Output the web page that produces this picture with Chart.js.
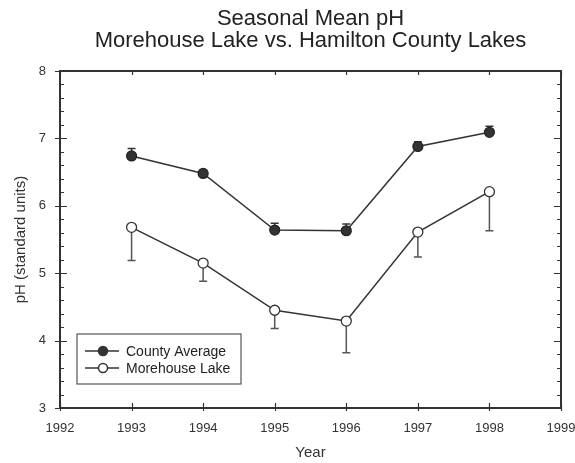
<!DOCTYPE html>
<html>
<head>
<meta charset="utf-8">
<script src="https://cdn.jsdelivr.net/npm/chart.js@4/dist/chart.umd.min.js"></script>
<style>
    html, body { margin: 0; padding: 0; background: #fff; }
    #wrap { width: 575px; height: 463px; }
</style>
</head>
<body>
<div id="wrap"><canvas id="chartPh"></canvas></div>
<script>
// ===========================
// DATOS
// ===========================
const years = [1993, 1994, 1995, 1996, 1997, 1998];
const countyAvg = [6.74, 6.48, 5.64, 5.63, 6.88, 7.09];
const countyErrUp = [0.11, 0.05, 0.10, 0.10, 0.07, 0.09];
const morehouse = [5.68, 5.15, 4.45, 4.29, 5.61, 6.21];
const morehouseErrDown = [0.49, 0.27, 0.27, 0.47, 0.37, 0.58];
const titleLines = ['Seasonal Mean pH', 'Morehouse Lake vs. Hamilton County Lakes'];

const ink = '#333';
const sans = "'Liberation Sans', Arial, sans-serif";
const narrow = "'Liberation Sans Narrow', 'Liberation Sans', Arial, sans-serif";

// ===========================
// PLUGIN: BARRAS DE ERROR
// ===========================
const errorBars = {
    id: 'errorBars',
    beforeDatasetsDraw(chart) {
        const { ctx, scales: { x, y } } = chart;
        const sets = [
            { vals: countyAvg, err: countyErrUp, dir: 1, color: '#333' },
            { vals: morehouse, err: morehouseErrDown, dir: -1, color: '#555' }
        ];
        ctx.save();
        ctx.lineWidth = 1.5;
        sets.forEach(s => {
            ctx.strokeStyle = s.color;
            years.forEach((yr, i) => {
                const px = x.getPixelForValue(yr);
                const y0 = y.getPixelForValue(s.vals[i]);
                const y1 = y.getPixelForValue(s.vals[i] + s.dir * s.err[i]);
                ctx.beginPath();
                ctx.moveTo(px, y0);
                ctx.lineTo(px, y1);
                ctx.moveTo(px - 4, y1);
                ctx.lineTo(px + 4, y1);
                ctx.stroke();
            });
        });
        ctx.restore();
    }
};

// ===========================
// PLUGIN: MARCO, TICKS Y LEYENDA
// ===========================
const frameAndLegend = {
    id: 'frameAndLegend',
    afterLayout(chart) {
        // centrar el título sobre el área del gráfico
        const tb = chart.titleBlock;
        if (tb) {
            tb.left = chart.chartArea.left;
            tb.right = chart.chartArea.right;
        }
    },
    beforeDatasetsDraw(chart) {
        const { ctx, chartArea: a, scales: { x, y } } = chart;
        ctx.save();
        ctx.strokeStyle = ink;
        ctx.lineWidth = 1.2;
        // ticks del eje y (menores cada 0.2)
        for (let k = 0; k <= 25; k++) {
            const v = 3 + k * 0.2;
            const py = Math.round(y.getPixelForValue(v)) + 0.5;
            const major = k % 5 === 0;
            ctx.beginPath();
            ctx.moveTo(a.left - (major ? 5 : 0), py);
            ctx.lineTo(a.left + (major ? 7 : 4), py);
            ctx.moveTo(a.right - (major ? 7 : 4), py);
            ctx.lineTo(a.right, py);
            ctx.stroke();
        }
        // ticks del eje x
        for (let yr = 1992; yr <= 1999; yr++) {
            const px = Math.round(x.getPixelForValue(yr)) + 0.5;
            ctx.beginPath();
            ctx.moveTo(px, a.bottom + 3);
            ctx.lineTo(px, a.bottom - 5);
            ctx.moveTo(px, a.top);
            ctx.lineTo(px, a.top + 4);
            ctx.stroke();
        }
        // marco
        ctx.lineWidth = 2;
        ctx.strokeRect(a.left, a.top, a.right - a.left, a.bottom - a.top);
        ctx.restore();
    },
    afterDraw(chart) {
        const { ctx, chartArea: a } = chart;
        const bx = a.left + 17, by = a.top + 263, bw = 164, bh = 50;
        ctx.save();
        ctx.fillStyle = '#fff';
        ctx.fillRect(bx, by, bw, bh);
        ctx.strokeStyle = '#555';
        ctx.lineWidth = 1.2;
        ctx.strokeRect(bx, by, bw, bh);
        chart.data.datasets.forEach((ds, i) => {
            const ly = by + 17 + i * 17;
            ctx.strokeStyle = ink;
            ctx.lineWidth = 1.5;
            ctx.beginPath();
            ctx.moveTo(bx + 8, ly);
            ctx.lineTo(bx + 42, ly);
            ctx.stroke();
            ctx.beginPath();
            ctx.arc(bx + 26, ly, 4.5, 0, Math.PI * 2);
            ctx.fillStyle = ds.pointBackgroundColor;
            ctx.fill();
            ctx.stroke();
            ctx.fillStyle = '#222';
            ctx.font = '14px ' + sans;
            ctx.textBaseline = 'middle';
            ctx.fillText(ds.label, bx + 49, ly + 1);
        });
        ctx.restore();
    }
};

// ===========================
// GRÁFICO
// ===========================
const ctx = document.getElementById('chartPh');

new Chart(ctx, {
    type: 'line',
    data: {
        datasets: [{
            label: 'County Average',
            data: years.map((yr, i) => ({ x: yr, y: countyAvg[i] })),
            borderColor: ink,
            borderWidth: 1.5,
            pointRadius: 5,
            pointBackgroundColor: '#333',
            pointBorderColor: '#222',
            pointBorderWidth: 1.2,
            tension: 0
        }, {
            label: 'Morehouse Lake',
            data: years.map((yr, i) => ({ x: yr, y: morehouse[i] })),
            borderColor: ink,
            borderWidth: 1.5,
            pointRadius: 5,
            pointBackgroundColor: '#fff',
            pointBorderColor: '#333',
            pointBorderWidth: 1.3,
            tension: 0
        }]
    },
    options: {
        responsive: true,
        maintainAspectRatio: false,
        animation: false,
        layout: { padding: { left: 0, right: 14, top: 0, bottom: 0 } },
        plugins: {
            legend: { display: false },
            tooltip: { enabled: false },
            title: {
                display: true,
                text: titleLines,
                color: '#222',
                font: { family: sans, size: 22, weight: 'normal', lineHeight: 1.0 },
                padding: { top: 8, bottom: 19 }
            }
        },
        scales: {
            x: {
                type: 'linear',
                min: 1992,
                max: 1999,
                grid: { display: false },
                border: { display: false },
                ticks: {
                    stepSize: 1,
                    color: '#333',
                    font: { family: narrow, size: 13 },
                    padding: 5,
                    callback: v => String(v)
                },
                title: {
                    display: true,
                    text: 'Year',
                    color: '#333',
                    font: { family: sans, size: 15 },
                    padding: { top: 0, bottom: 1 }
                },
                afterFit: s => {
                    s.height = 55;
                    s.paddingLeft = 0;
                    s.paddingRight = 0;
                }
            },
            y: {
                min: 3,
                max: 8,
                grid: { display: false },
                border: { display: false },
                ticks: {
                    stepSize: 1,
                    color: '#333',
                    font: { family: narrow, size: 13 },
                    padding: 6
                },
                title: {
                    display: true,
                    text: 'pH (standard units)',
                    color: '#333',
                    font: { family: sans, size: 15 },
                    padding: { top: 12, bottom: 0 }
                },
                afterFit: s => { s.width = 60; }
            }
        }
    },
    plugins: [errorBars, frameAndLegend]
});
</script>
</body>
</html>
